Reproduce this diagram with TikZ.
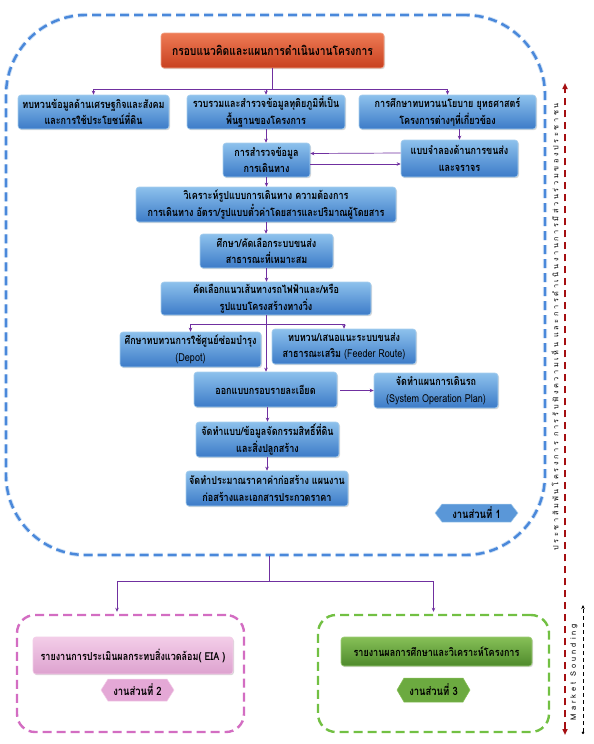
\documentclass[tikz,border=0pt]{standalone}
\usepackage{fontspec}
\setmainfont[Script=Thai, FakeStretch=0.82]{Loma}
\newfontfamily\vfont[Script=Thai]{Loma}
\usetikzlibrary{arrows.meta,calc,shadows}
\definecolor{bluetop}{HTML}{8DC1EC}
\definecolor{bluebot}{HTML}{3C7BC8}
\definecolor{blueedge}{HTML}{A9CFEE}
\definecolor{titletop}{HTML}{EE7B55}
\definecolor{titlebot}{HTML}{C8401F}
\definecolor{titleedge}{HTML}{F3A487}
\definecolor{purplec}{HTML}{7030A0}
\definecolor{outerblue}{HTML}{4A88DA}
\definecolor{outerglow}{HTML}{C9DDF5}
\definecolor{pinkdash}{HTML}{D36DC2}
\definecolor{pinktop}{HTML}{F3CDE8}
\definecolor{pinkbot}{HTML}{DDA2CF}
\definecolor{tagpink}{HTML}{E4A8D6}
\definecolor{greendash}{HTML}{72C043}
\definecolor{greentop}{HTML}{87C057}
\definecolor{greenbot}{HTML}{4E8A2C}
\definecolor{taggreen}{HTML}{6CAA40}
\definecolor{tagblue}{HTML}{5A97D8}
\definecolor{reddash}{HTML}{A50F12}
\begin{document}
\begin{tikzpicture}[x=1pt,y=-1pt,
  wh/.style 2 args={minimum width=#1pt, minimum height=#2pt},
  boxbase/.style={rounded corners=3pt, align=center, inner sep=1pt, line width=0.6pt,
     font=\fontsize{11}{16.5}\selectfont\bfseries,
     drop shadow={opacity=0.3, shadow xshift=1pt, shadow yshift=-1.2pt}},
  bluebox/.style={boxbase, draw=blueedge, top color=bluetop, bottom color=bluebot},
  titlebox/.style={boxbase, draw=titleedge, top color=titletop, bottom color=titlebot,
     font=\fontsize{12.5}{14}\selectfont\bfseries},
  pinkbar/.style={boxbase, draw=pinktop, top color=pinktop, bottom color=pinkbot},
  greenbar/.style={boxbase, draw=greentop!80!white, top color=greentop, bottom color=greenbot},
  tagtext/.style={inner sep=0pt, font=\fontsize{11.5}{12}\selectfont\bfseries},
  conn/.style={draw=purplec, line width=0.7pt},
  arr/.style={conn, -{Stealth[length=4pt,width=3.5pt]}},
  dashframe/.style={rounded corners=18pt, line width=2.4pt, dash pattern=on 9pt off 5pt}
]
\fill[white] (0,0) rectangle (594,744);
\useasboundingbox (0,0) rectangle (594,744);

% outer blue frame
\node[draw=outerblue, dashframe, rounded corners=80pt, wh={539}{540},
  preaction={draw=outerglow, line width=4.2pt, dash pattern=on 9pt off 5pt}] (outer) at (275.5,285) {};

% title
\node[titlebox, wh={223}{35}] (title) at (272.5,50.5) {กรอบแนวคิดและแผนการดำเนินงานโครงการ};

% first row
\node[bluebox, wh={151}{34}] (A) at (93.5,112) {ทบทวนข้อมูลด้านเศรษฐกิจและสังคม\\และการใช้ประโยชน์ที่ดิน};
\node[bluebox, wh={158}{34}] (B) at (266,112) {รวบรวมและสำรวจข้อมูลทุติยภูมิที่เป็น\\พื้นฐานของโครงการ};
\node[bluebox, wh={177}{34}] (C) at (447.5,112) {การศึกษาทบทวนนโยบาย ยุทธศาสตร์\\โครงการต่างๆที่เกี่ยวข้อง};

\node[bluebox, wh={87}{34}] (D) at (266.5,160) {การสำรวจข้อมูล\\การเดินทาง};
\node[bluebox, wh={117}{37}] (E) at (459.5,158.5) {แบบจำลองด้านการขนส่ง\\และจราจร};
\node[bluebox, wh={260}{35}] (F) at (266,204.5) {วิเคราะห์รูปแบบการเดินทาง ความต้องการ\\การเดินทาง อัตรา/รูปแบบตั๋วค่าโดยสารและปริมาณผู้โดยสาร};
\node[bluebox, wh={133}{34}] (G) at (266.5,251) {ศึกษา/คัดเลือกระบบขนส่ง\\สาธารณะที่เหมาะสม};
\node[bluebox, wh={210}{33}] (H) at (266,298.5) {คัดเลือกแนวเส้นทางรถไฟฟ้าและ/หรือ\\รูปแบบโครงสร้างทางวิ่ง};
\node[bluebox, wh={141}{35}] (Dep) at (190.5,349.5) {ศึกษาทบทวนการใช้ศูนย์ซ่อมบำรุง\\{\mdseries (Depot)}};
\node[bluebox, wh={144}{35}] (Fee) at (344,346.5) {ทบทวน/เสนอแนะระบบขนส่ง\\สาธารณะเสริม {\mdseries (Feeder Route)}};
\node[bluebox, wh={143}{35}] (Des) at (265.5,389.5) {ออกแบบกรอบรายละเอียด};
\node[bluebox, wh={124}{35}] (Sys) at (436,390.5) {จัดทำแผนการเดินรถ\\{\mdseries (System Operation Plan)}};
\node[bluebox, wh={143}{35}] (Land) at (267.5,439.5) {จัดทำแบบ/ข้อมูลจัดกรรมสิทธิ์ที่ดิน\\และสิ่งปลูกสร้าง};
\node[bluebox, wh={162}{35}] (Cost) at (267,488.5) {จัดทำประมาณราคาค่าก่อสร้าง แผนงาน\\ก่อสร้างและเอกสารประกวดราคา};

% tag 1
\fill[tagblue, draw=blueedge, line width=0.5pt] (435,513) -- (442,504) -- (511,504) -- (518,513) -- (511,522) -- (442,522) -- cycle;
\node[tagtext] (t1) at (476.5,513) {งานส่วนที่ 1};

% connectors upper part
\draw[conn] (title.south) -- ++(0,21) coordinate (j0);
\draw[arr] (j0) -| (A.north);
\draw[arr] (j0) -| (C.north);
\draw[arr] (B.north |- j0) -- (B.north);
\draw[arr] (B.south) -- (B.south |- D.north);
\draw[arr] (E.north |- C.south) -- (E.north);
\draw[arr] ($(E.west)+(0,-5.5)$) -- ($(D.east)+(0,-6.5)$);
\draw[arr] ($(D.east)+(0,4)$) -- ($(E.west)+(0,5.5)$);
\draw[arr] (D.south) -- (D.south |- F.north);
\draw[arr] (F.south) -- (F.south |- G.north);
\draw[arr] (G.south) -- (G.south |- H.north);
\draw[arr] (H.south) -- (H.south |- Des.north);
\coordinate (jh) at ($(H.south)+(0,9)$);
\draw[arr] (jh) -| (Dep.north);
\draw[arr] (jh) -| (Fee.north);
\draw[arr, shorten <=3pt] (Des.east |- Sys.west) -- (Sys.west);
\draw[arr] (Des.south -| Land.north) -- (Land.north);
\draw[arr] (Land.south -| Cost.north) -- (Cost.north);

% bottom frames
\node[draw=pinkdash, dashframe, wh={227}{117}] (pink) at (130.5,673.5) {};
\node[draw=greendash, dashframe, wh={231}{117}] (green) at (433.5,673.5) {};
\node[pinkbar, wh={200}{37}] (EIA) at (133,655.5) {รายงานการประเมินผลกระทบสิ่งแวดล้อม( EIA )};
\node[greenbar, wh={191}{29}] (Rep) at (436.5,651.5) {รายงานผลการศึกษาและวิเคราะห์โครงการ};
\fill[tagpink, draw=pinktop, line width=0.5pt] (101,690) -- (108,679) -- (167,679) -- (174,690) -- (167,701) -- (108,701) -- cycle;
\node[tagtext] (t2) at (137.5,690) {งานส่วนที่ 2};
\fill[taggreen, draw=greentop, line width=0.5pt] (397,690) -- (404,678) -- (463,678) -- (470,690) -- (463,702) -- (404,702) -- cycle;
\node[tagtext] (t3) at (433.5,690) {งานส่วนที่ 3};

\coordinate (ob) at ($(outer.south)+(-6.5,0)$);
\draw[conn] (ob) -- ++(0,25) coordinate (jb);
\draw[arr] (jb) -| ($(pink.north)+(-13.5,-2)$);
\draw[arr] (jb) -| ($(green.north)+(0,-2)$);

% right side
\coordinate (r1) at (565,735);
\coordinate (r2) at (565,83);
\draw[draw=reddash, line width=1.8pt, dash pattern=on 7pt off 5pt,
  {Triangle[length=6pt,width=5pt]}-{Triangle[length=6pt,width=5pt]}] (r1) -- (r2);
\node[rotate=90, inner sep=0pt, font=\vfont\fontsize{7.3}{8}\selectfont\addfontfeature{LetterSpace=36}] (vt) at (555,327)
  {ประชาสัมพันโครงการ การรับฟังความเห็น และการดำเนินงานการมีส่วนร่วมของประชาชน};
\node[rotate=90, inner sep=0pt, font=\vfont\fontsize{7.5}{8}\selectfont\addfontfeature{LetterSpace=40}] (ms) at (574,672) {Market Sounding};
\coordinate (m1) at (583,734);
\coordinate (m2) at (583,605);
\draw[black, line width=0.8pt, dash pattern=on 4pt off 3pt,
  {Circle[length=2.5pt]}-{Stealth[length=4pt,width=3.5pt]}] (m1) -- (m2);
\end{tikzpicture}
\end{document}
